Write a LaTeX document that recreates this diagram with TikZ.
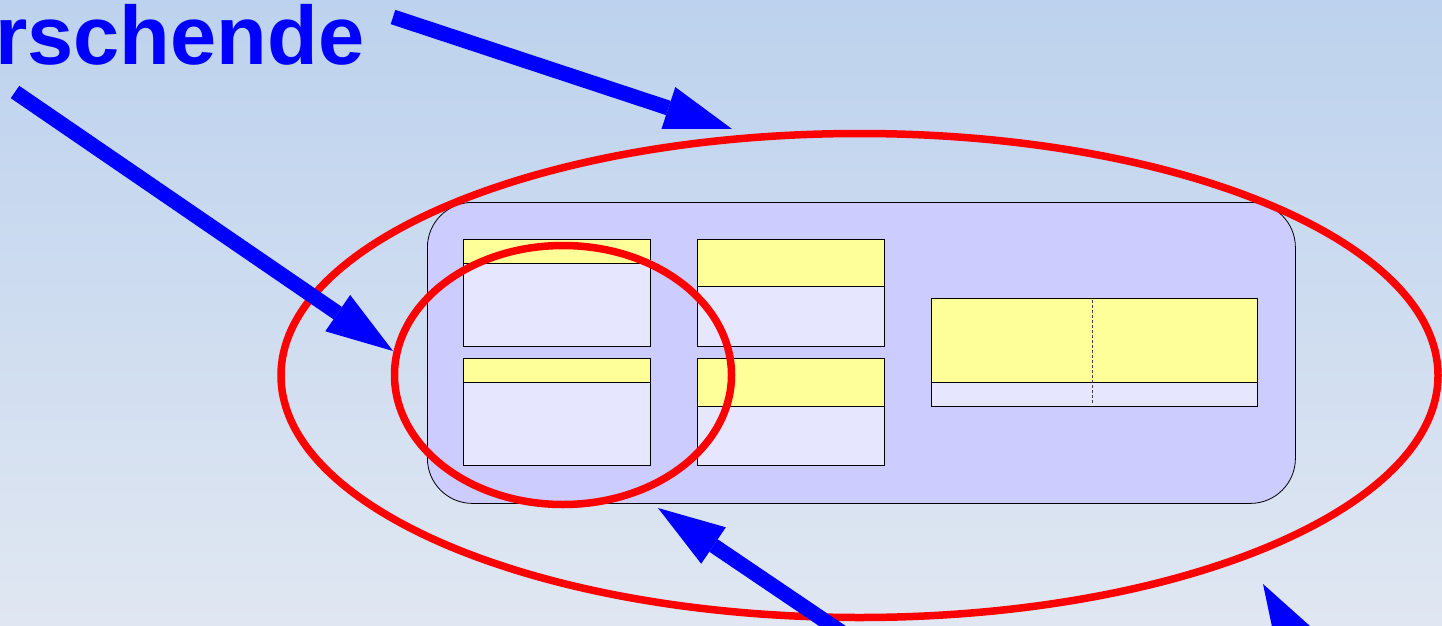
\documentclass[tikz,border=0pt]{standalone}
\usepackage{fontspec}
\setmainfont{Liberation Sans}
\usepackage{tikz}
\usetikzlibrary{arrows.meta}
\definecolor{bgtop}{RGB}{189,210,238}
\definecolor{bgmid}{RGB}{221,229,241}
\definecolor{bgbot}{RGB}{224,231,242}
\definecolor{framefill}{RGB}{204,204,255}
\definecolor{bodyfill}{RGB}{230,230,255}
\definecolor{headfill}{RGB}{255,255,153}
\definecolor{arrowblue}{RGB}{0,0,255}
\definecolor{ringred}{RGB}{255,0,0}

\begin{document}
\begin{tikzpicture}[x=1pt,y=-1pt,
  blue arrow/.style={draw=arrowblue,line width=15pt,-{Triangle[length=67pt,width=44pt,line width=0pt,fill=arrowblue]}},
  red ring/.style={draw=ringred,line width=7.5pt},
  frame box/.style={draw=black,fill=framefill,line width=0.8pt,rounded corners=45pt,anchor=north west,inner sep=0pt},
  body box/.style={draw=black,fill=bodyfill,line width=0.9pt,anchor=north west,inner sep=0pt,minimum width=187pt},
  head box/.style={draw=black,fill=headfill,line width=0.9pt,anchor=north west,inner sep=0pt,minimum width=187pt}]

  % background
  \useasboundingbox (0,0) rectangle (1442,626);
  \shade[top color=bgtop,middle color=bgmid,bottom color=bgbot] (0,0) rectangle (1442,626);

  \node[anchor=base west,inner sep=0pt,text=arrowblue,font=\fontsize{83}{90}\selectfont\bfseries] (title) at (-5,65) {rschende};

  % outer frame with the small boxes
  \node[frame box,minimum width=868pt,minimum height=301pt] (frame) at (427,202) {};

  \node[body box,minimum height=107pt] (a) at (463,239) {};
  \node[head box,minimum height=24pt] (ah) at (463,239) {};
  \node[body box,minimum height=107pt] (b) at (697,239) {};
  \node[head box,minimum height=47pt] (bh) at (697,239) {};
  \node[body box,minimum height=107pt] (c) at (463,358) {};
  \node[head box,minimum height=24pt] (ch) at (463,358) {};
  \node[body box,minimum height=107pt] (d) at (697,358) {};
  \node[head box,minimum height=48pt] (dh) at (697,358) {};

  \node[body box,minimum width=326pt,minimum height=108pt] (e) at (931,298) {};
  \node[head box,minimum width=326pt,minimum height=84pt] (eh) at (931,298) {};
  \draw[black!75,line width=1pt,dash pattern=on 3pt off 2pt] ([xshift=-2pt,yshift=-2pt]e.north) -- ([xshift=-2pt,yshift=2pt]e.south);

  % red rings
  \draw[red ring] (859.5,375.5) ellipse [x radius=578.5pt,y radius=242pt];
  \draw[red ring] (563,375) ellipse [x radius=168.5pt,y radius=129.5pt];

  % blue arrows
  \coordinate (t1) at (393,17);   \coordinate (p1) at (732,129);
  \coordinate (t2) at (15,92);    \coordinate (p2) at (393,351);
  \coordinate (t3) at (865,648);  \coordinate (p3) at (658,508);
  \coordinate (t4) at (1363,757); \coordinate (p4) at (1263,584);

  \draw[blue arrow] (t1) -- (p1);
  \draw[blue arrow] (t2) -- (p2);
  \draw[blue arrow] (t3) -- (p3);
  \draw[blue arrow] (t4) -- (p4);

\end{tikzpicture}
\end{document}
